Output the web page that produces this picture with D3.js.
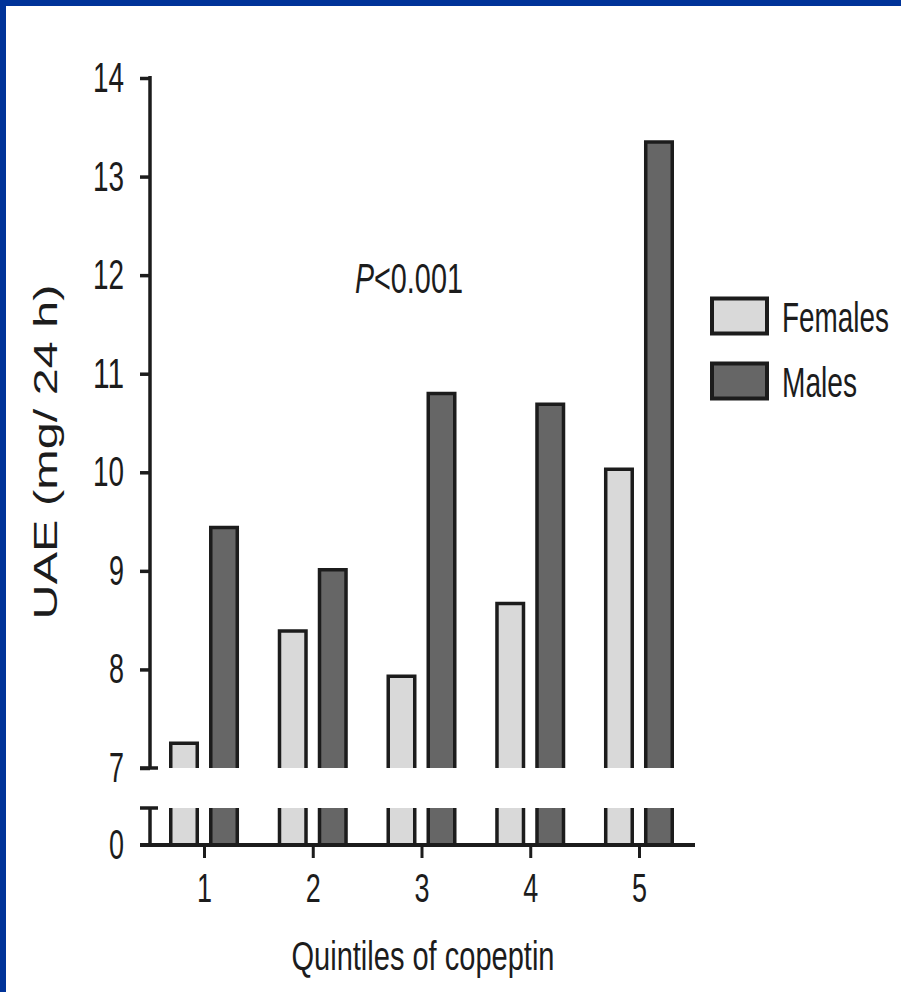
<!DOCTYPE html>
<html>
<head>
<meta charset="utf-8">
<script src="https://cdn.jsdelivr.net/npm/d3@7"></script>
<style>
  html, body { margin: 0; padding: 0; background: #fff; }
  svg { display: block; }
  text { font-family: "Liberation Sans", Arial, sans-serif; fill: #1c1c1c; }
</style>
</head>
<body>
<script>
// ---- data ----
const categories = ["1", "2", "3", "4", "5"];
const seriesNames = ["Females", "Males"];
const females = [7.25, 8.39, 7.93, 8.67, 10.03];
const males = [9.44, 9.01, 10.80, 10.69, 13.35];
const yTicksUpper = [7, 8, 9, 10, 11, 12, 13, 14];
const yTicksLower = [0];
const xTitle = "Quintiles of copeptin";
const yTitle = "UAE (mg/ 24 h)";
const annotation = { italic: "P", rest: "<0.001" };

const W = 901, H = 992;
const colors = { Females: "#d9d9d9", Males: "#666666" };
const ink = "#1c1c1c";

const svg = d3.select("body").append("svg").attr("width", W).attr("height", H);
svg.append("rect").attr("width", W).attr("height", H).attr("fill", "#fff");
svg.append("rect").attr("x", 0).attr("y", 0).attr("width", W).attr("height", 6).attr("fill", "#003399");
svg.append("rect").attr("x", 0).attr("y", 0).attr("width", 6).attr("height", H).attr("fill", "#003399");

// horizontally condense a text element to a target width (keeps anchor point)
function condense(el, target) {
  const node = el.node ? el.node() : el;
  const natural = node.getComputedTextLength();
  if (!natural) return;
  const s = target / natural;
  const x = +(node.getAttribute("x") || 0);
  const prev = node.getAttribute("transform") || "";
  node.setAttribute("transform", `${prev} translate(${x * (1 - s)},0) scale(${s},1)`);
}

// ---- scales ----
const axisX = 150;
const x0 = d3.scaleBand().domain(categories).range([169, 674]).paddingInner(0.356).paddingOuter(0);
const x1 = d3.scaleBand().domain(seriesNames).range([0, x0.bandwidth()]).paddingInner(0.25).paddingOuter(0);
const yUp = d3.scaleLinear().domain([7, 14]).range([768, 78]);
const yLow = d3.scaleLinear().domain([0, 1]).range([845, 808]); // 1 = break level

const rows = categories.map((c, i) => ({ cat: c, Females: females[i], Males: males[i] }));
const bars = [];
rows.forEach(r => seriesNames.forEach(s => bars.push({ cat: r.cat, key: s, value: r[s] })));

const sw = 3.5;
const g = svg.append("g");

bars.forEach(b => {
  const x = x0(b.cat) + x1(b.key) + sw / 2;
  const w = x1.bandwidth() - sw;
  const top = yUp(b.value);
  const bot = yUp(7);
  g.append("rect").attr("x", x).attr("y", top).attr("width", w).attr("height", bot - top)
    .attr("fill", colors[b.key]);
  g.append("path").attr("d", `M${x},${bot}V${top}H${x + w}V${bot}`)
    .attr("fill", "none").attr("stroke", ink).attr("stroke-width", sw);
  const lt = yLow(1), lb = yLow(0);
  g.append("rect").attr("x", x).attr("y", lt).attr("width", w).attr("height", lb - lt)
    .attr("fill", colors[b.key]);
  g.append("path").attr("d", `M${x},${lt}V${lb}M${x + w},${lt}V${lb}`)
    .attr("fill", "none").attr("stroke", ink).attr("stroke-width", sw);
});

// ---- y axis (upper) ----
const yAxisUp = d3.axisLeft(yUp).tickValues(yTicksUpper).tickSize(10).tickPadding(16).tickFormat(d3.format("d"));
const gy = svg.append("g").attr("transform", `translate(${axisX},0)`).call(yAxisUp);
gy.select(".domain").remove();
gy.selectAll(".tick line").attr("stroke", ink).attr("stroke-width", sw);
gy.selectAll(".tick text").attr("font-size", 42).attr("fill", ink)
  .attr("font-family", "'Liberation Sans', Arial, sans-serif")
  .each(function(d) { condense(this, String(d).length === 2 ? 31 : 15); });
svg.append("line").attr("x1", axisX).attr("x2", axisX).attr("y1", yUp(14) - 2).attr("y2", yUp(7))
  .attr("stroke", ink).attr("stroke-width", sw);
svg.append("line").attr("x1", axisX - 10).attr("x2", axisX + 8).attr("y1", yUp(7)).attr("y2", yUp(7))
  .attr("stroke", ink).attr("stroke-width", sw);

// ---- y axis (lower) ----
const yAxisLow = d3.axisLeft(yLow).tickValues(yTicksLower).tickSize(0).tickPadding(26).tickFormat(d3.format("d"));
const gyl = svg.append("g").attr("transform", `translate(${axisX},0)`).call(yAxisLow);
gyl.select(".domain").remove();
gyl.selectAll(".tick text").attr("font-size", 42).attr("fill", ink)
  .attr("font-family", "'Liberation Sans', Arial, sans-serif")
  .each(function() { condense(this, 15); });
svg.append("line").attr("x1", axisX).attr("x2", axisX).attr("y1", yLow(1)).attr("y2", yLow(0))
  .attr("stroke", ink).attr("stroke-width", sw);
svg.append("line").attr("x1", axisX - 10).attr("x2", axisX + 8).attr("y1", yLow(1)).attr("y2", yLow(1))
  .attr("stroke", ink).attr("stroke-width", sw);

// ---- x axis ----
const centers = categories.map(c => x0(c) + x0.bandwidth() / 2);
const xAxis = d3.axisBottom(d3.scalePoint().domain(categories).range([centers[0], centers[centers.length - 1]]))
  .tickSize(13).tickPadding(16);
const gx = svg.append("g").attr("transform", `translate(0,${yLow(0)})`).call(xAxis);
gx.select(".domain").remove();
gx.selectAll(".tick line").attr("stroke", ink).attr("stroke-width", 3);
gx.selectAll(".tick text").attr("font-size", 40).attr("fill", ink)
  .attr("font-family", "'Liberation Sans', Arial, sans-serif")
  .attr("dy", "0.71em")
  .each(function() { condense(this, 15); });
svg.append("line").attr("x1", 140).attr("x2", 695).attr("y1", yLow(0)).attr("y2", yLow(0))
  .attr("stroke", ink).attr("stroke-width", 4);

// ---- titles ----
const xt = svg.append("text").attr("x", 423).attr("y", 970).attr("text-anchor", "middle")
  .attr("font-size", 41).text(xTitle);
condense(xt, 263);
const ytG = svg.append("g").attr("transform", "translate(57,452) rotate(-90)");
const yt = ytG.append("text").attr("x", 0).attr("y", 0).attr("text-anchor", "middle")
  .attr("font-size", 33).text(yTitle);
condense(yt, 335);

// ---- annotation ----
const annP = svg.append("text").attr("x", 355).attr("y", 293).attr("font-size", 42)
  .attr("font-style", "italic").text(annotation.italic);
condense(annP, 19);
const annR = svg.append("text").attr("x", 374).attr("y", 293).attr("font-size", 42)
  .text(annotation.rest);
condense(annR, 89);

// ---- legend ----
const legend = svg.append("g");
const legY = [297, 362];
seriesNames.forEach((s, i) => {
  legend.append("rect").attr("x", 712).attr("y", legY[i] + 1.5).attr("width", 55).attr("height", 35)
    .attr("fill", colors[s]).attr("stroke", ink).attr("stroke-width", 4);
  const t = legend.append("text").attr("x", 782).attr("y", legY[i] + 35).attr("font-size", 42).text(s);
  condense(t, s === "Females" ? 107 : 75);
});
</script>
</body>
</html>
